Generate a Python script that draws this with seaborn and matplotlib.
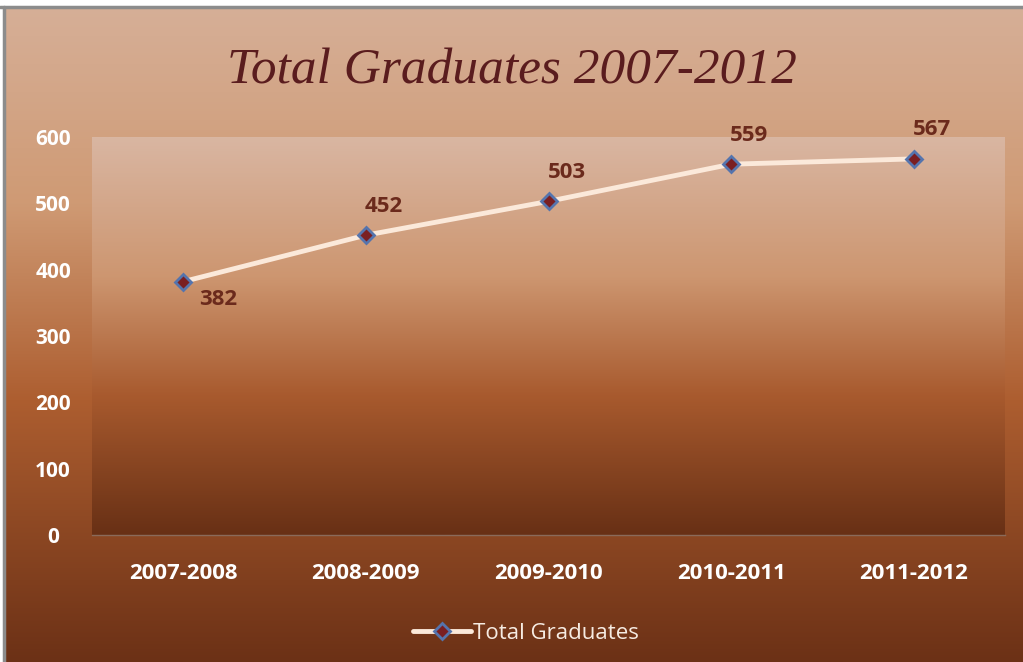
import numpy as np
import pandas as pd
import seaborn as sns
import matplotlib.pyplot as plt
from matplotlib.colors import LinearSegmentedColormap
from matplotlib.lines import Line2D

years = ["2007-2008", "2008-2009", "2009-2010", "2010-2011", "2011-2012"]
graduates = [382, 452, 503, 559, 567]
series_name = "Total Graduates"

df = pd.DataFrame({"year": years, "graduates": graduates})

sns.set_theme(style="white")
plt.rcParams['font.family'] = ['Open Sans', 'DejaVu Sans']

fig = plt.figure(figsize=(10.23, 6.62), dpi=100, facecolor="white")

# background panel with vertical gradient
bg = fig.add_axes([4 / 1023, 0, 1 - 4 / 1023, 1 - 7 / 662])
bg_cmap = LinearSegmentedColormap.from_list(
    "bg", [(0, "#d6af97"), (0.3, "#cf9a74"), (0.6, "#ad5e30"), (1.0, "#6c3116")])
grad = np.linspace(0, 1, 256).reshape(-1, 1)
bg.imshow(grad, aspect="auto", cmap=bg_cmap, extent=[0, 1, 0, 1], origin="upper")
bg.set_axis_off()
fig.add_artist(Line2D([0, 1], [1 - 7 / 662] * 2, color="#8c8c8c", lw=2.5))
fig.add_artist(Line2D([4 / 1023] * 2, [0, 1 - 7 / 662], color="#8c8c8c", lw=2.5))

ax = fig.add_axes([92 / 1023, 1 - 535 / 662, 913 / 1023, 398 / 662])
ax.set_zorder(2)
pa_cmap = LinearSegmentedColormap.from_list(
    "pa", [(0, "#d9b6a2"), (0.35, "#cd9670"), (0.65, "#a85a2e"), (1.0, "#683015")])
ax.imshow(grad, aspect="auto", cmap=pa_cmap, extent=[-0.5, 4.5, 0, 600],
          origin="upper", zorder=0)

sns.lineplot(data=df, x="year", y="graduates", ax=ax, sort=False,
             color="#fbe9da", lw=3.5, marker="D", markersize=8,
             markerfacecolor="#7a1f22", markeredgecolor="#5574ad",
             markeredgewidth=2, zorder=3, label=series_name)

for i, v in enumerate(graduates):
    off = (25, -13) if i == 0 else (13, 21)
    ax.annotate(str(v), (i, v), xytext=off, textcoords="offset points",
                ha="center", va="center", fontsize=16, fontweight="bold",
                color="#6b2a1c")

ax.set_xlim(-0.5, 4.5)
ax.set_ylim(0, 600)
ax.set_yticks(range(0, 601, 100))
ax.set_xlabel("")
ax.set_ylabel("")
for s in ["top", "right", "left"]:
    ax.spines[s].set_visible(False)
ax.spines["bottom"].set_color("#8a6a5a")
ax.spines["bottom"].set_linewidth(1)
ax.tick_params(axis="both", length=0, colors="white")
ax.tick_params(axis="x", pad=20, labelsize=16)
ax.tick_params(axis="y", pad=28, labelsize=15)
for lab in ax.get_xticklabels() + ax.get_yticklabels():
    lab.set_fontweight("bold")
for lab in ax.get_yticklabels():
    lab.set_horizontalalignment("center")

leg = ax.legend(loc="upper center", bbox_to_anchor=(0.475, -0.17), frameon=False,
                fontsize=16, handlelength=2.6, handletextpad=0.1)
for t in leg.get_texts():
    t.set_color("#f6ebe2")

fig.text(0.5, 0.893, "Total Graduates 2007-2012", ha="center", va="center",
         fontsize=37, family="Liberation Serif", style="italic", color="#5a1c1e")

fig.savefig("out.png", dpi=100)
